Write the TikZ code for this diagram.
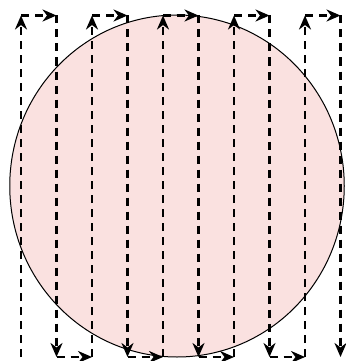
\documentclass[tikz,border=0pt]{standalone}
\usetikzlibrary{arrows.meta,shapes.geometric}
\definecolor{blobfill}{RGB}{250,225,224}
\tikzset{
  flow/.style={draw=black, line width=2.6pt, dash pattern=on 8pt off 6pt,
    -{Stealth[length=14pt,width=12pt,inset=4.5pt]}},
  blob/.style={ellipse, draw=black, line width=1pt, fill=blobfill,
    minimum width=334.5pt, minimum height=342pt, inner sep=0pt}
}
\begin{document}
\begin{tikzpicture}[x=1pt,y=-1pt]
\useasboundingbox (0,0) rectangle (345,361);
\node[blob] (disc) at (177,186) {};
\foreach \i/\xx in {0/21,1/56.5,2/92,3/127.5,4/163,5/198.5,6/234,7/269.5,8/305,9/340.5}{
  \coordinate (t\i) at (\xx,15.5);
  \coordinate (b\i) at (\xx,357);
}
\draw[flow] (b0) -- (t0);
\draw[flow] (t0) -- (t1);
\draw[flow] (t1) -- (b1);
\draw[flow] (b1) -- (b2);
\draw[flow] (b2) -- (t2);
\draw[flow] (t2) -- (t3);
\draw[flow] (t3) -- (b3);
\draw[flow] (b3) -- (b4);
\draw[flow] (b4) -- (t4);
\draw[flow] (t4) -- (t5);
\draw[flow] (t5) -- (b5);
\draw[flow] (b5) -- (b6);
\draw[flow] (b6) -- (t6);
\draw[flow] (t6) -- (t7);
\draw[flow] (t7) -- (b7);
\draw[flow] (b7) -- (b8);
\draw[flow] (b8) -- (t8);
\draw[flow] (t8) -- (t9);
\draw[flow] (t9) -- (b9);
\end{tikzpicture}
\end{document}
